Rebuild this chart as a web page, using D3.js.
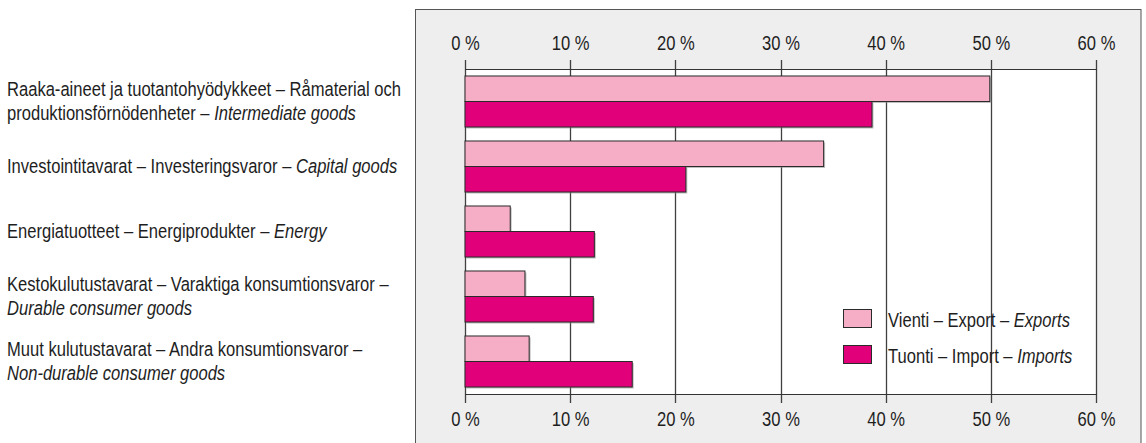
<!DOCTYPE html>
<html>
<head>
<meta charset="utf-8">
<script src="https://cdn.jsdelivr.net/npm/d3@7"></script>
<style>
  html, body { margin: 0; padding: 0; background: #ffffff; }
  svg { display: block; }
  text { font-family: "Liberation Sans", Arial, sans-serif; fill: #1e1e1e; }
</style>
</head>
<body>
<svg id="chart" width="1146" height="443"></svg>
<script>
// Product groups: each label is a list of lines, each line a list of [text, italic] runs
const categories = [
  [[["Raaka-aineet ja tuotantohyödykkeet – Råmaterial och", false]],
   [["produktionsförnödenheter – ", false], ["Intermediate goods", true]]],
  [[["Investointitavarat – Investeringsvaror – ", false], ["Capital goods", true]]],
  [[["Energiatuotteet – Energiprodukter – ", false], ["Energy", true]]],
  [[["Kestokulutustavarat – Varaktiga konsumtionsvaror –", false]],
   [["Durable consumer goods", true]]],
  [[["Muut kulutustavarat – Andra konsumtionsvaror –", false]],
   [["Non-durable consumer goods", true]]]
];

// Shares of total trade, %
const exportsShare = [49.9, 34.1, 4.3, 5.7, 6.1];
const importsShare = [38.7, 21.0, 12.3, 12.2, 15.9];

const tickValues = [0, 10, 20, 30, 40, 50, 60];

const seriesNames = [
  [["Vienti – Export – ", false], ["Exports", true]],
  [["Tuonti – Import – ", false], ["Imports", true]]
];
const seriesColors = ["#f5aec6", "#e2007a"];

// the typeface is a condensed grotesque: squeeze a regular sans horizontally
const FONT_SIZE = 19.5;
const SQUEEZE = 0.85;

const svg = d3.select("#chart");

const plot = { left: 465, right: 1096, top: 69, bottom: 394 };
const tickLen = 9;

// grey panel behind the plot
svg.append("rect")
  .attr("x", 415.5).attr("y", 9.5)
  .attr("width", 1141 - 415.5).attr("height", 460)
  .attr("fill", "#eeeeee")
  .attr("stroke", "#555555")
  .attr("stroke-width", 1);

const x = d3.scaleLinear().domain([0, 60]).range([plot.left, plot.right]);
const idx = d3.range(categories.length);
const y = d3.scaleBand().domain(idx).range([plot.top, plot.bottom])
  .paddingInner(0.215).paddingOuter(0.1075);
const ySub = d3.scaleBand().domain([0, 1]).range([0, y.bandwidth()]);

// white plot area
svg.append("rect")
  .attr("x", plot.left).attr("y", plot.top)
  .attr("width", plot.right - plot.left).attr("height", plot.bottom - plot.top)
  .attr("fill", "#ffffff");

// vertical grid lines, continuing into the tick marks above and below
svg.append("g").selectAll("line")
  .data(tickValues)
  .join("line")
  .attr("x1", d => Math.round(x(d)) + 0.5).attr("x2", d => Math.round(x(d)) + 0.5)
  .attr("y1", plot.top - tickLen).attr("y2", plot.bottom + tickLen)
  .attr("stroke", "#404040").attr("stroke-width", 1.3);

// horizontal frame lines
[plot.top, plot.bottom].forEach(v => {
  svg.append("line")
    .attr("x1", plot.left).attr("x2", Math.round(plot.right) + 1)
    .attr("y1", v + 0.5).attr("y2", v + 0.5)
    .attr("stroke", "#333333").attr("stroke-width", 1.2);
});

// tick labels via D3 axes
const fmt = d => d + " %";
const axTop = d3.axisTop(x).tickValues(tickValues).tickFormat(fmt).tickSize(0).tickPadding(0);
const axBot = d3.axisBottom(x).tickValues(tickValues).tickFormat(fmt).tickSize(0).tickPadding(0);

const gTop = svg.append("g").attr("transform", `translate(0,${plot.top - tickLen - 10})`).call(axTop);
const gBot = svg.append("g").attr("transform", `translate(0,${plot.bottom + tickLen + 9})`).call(axBot);
[gTop, gBot].forEach(g => {
  g.select(".domain").remove();
  g.selectAll("text")
    .attr("font-family", "Liberation Sans, Arial, sans-serif")
    .attr("font-size", FONT_SIZE)
    .attr("fill", "#1e1e1e")
    .attr("transform", `scale(${SQUEEZE},1)`);
});

// bars with a faint drop shadow
const series = [exportsShare, importsShare];
series.forEach((vals, s) => {
  const g = svg.append("g");
  g.selectAll("rect.shadow")
    .data(vals)
    .join("rect")
    .attr("class", "shadow")
    .attr("x", x(0) + 1.5)
    .attr("y", (d, i) => y(i) + ySub(s) + 1.5)
    .attr("width", d => x(d) - x(0))
    .attr("height", ySub.bandwidth())
    .attr("fill", "#8a8a8a").attr("opacity", 0.55);
  g.selectAll("rect.bar")
    .data(vals)
    .join("rect")
    .attr("class", "bar")
    .attr("x", x(0))
    .attr("y", (d, i) => y(i) + ySub(s))
    .attr("width", d => x(d) - x(0))
    .attr("height", ySub.bandwidth())
    .attr("fill", seriesColors[s])
    .attr("stroke", "#2a2a2a").attr("stroke-width", 1);
});

// writes a line of mixed upright/italic runs, squeezed horizontally
function richText(parent, px, py, runs) {
  const t = parent.append("text")
    .attr("transform", `translate(${px},${py}) scale(${SQUEEZE},1)`)
    .attr("dy", "0.35em")
    .attr("font-size", FONT_SIZE);
  runs.forEach(([txt, it]) => {
    t.append("tspan").text(txt).attr("font-style", it ? "italic" : "normal");
  });
  return t;
}

// category labels on the left
const lineH = 24;
categories.forEach((lines, i) => {
  const cy = y(i) + y.bandwidth() / 2;
  const y0 = cy - (lines.length - 1) * lineH / 2;
  lines.forEach((runs, j) => richText(svg, 7, y0 + j * lineH, runs));
});

// legend inside the plot area
const legend = svg.append("g").attr("transform", "translate(843,309)");
seriesNames.forEach((runs, s) => {
  const g = legend.append("g").attr("transform", `translate(0,${s * 36})`);
  g.append("rect")
    .attr("x", 0.5).attr("y", 0.5).attr("width", 28).attr("height", 18)
    .attr("fill", seriesColors[s])
    .attr("stroke", "#2a2a2a").attr("stroke-width", 1);
  richText(g, 45, 11, runs);
});
</script>
</body>
</html>
